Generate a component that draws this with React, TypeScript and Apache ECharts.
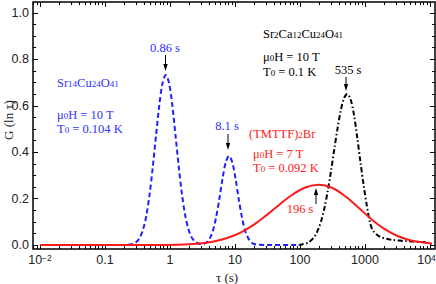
import React, { useEffect, useRef } from 'react';
import * as echarts from 'echarts';

// x values are log10(tau / s)
const blueData: number[][] = [
  [-2, 0], [-1.0, 0], [-0.765, 0.0001], [-0.715, 0.0002], [-0.665, 0.0007], [-0.615, 0.002],
  [-0.565, 0.0056], [-0.515, 0.014], [-0.465, 0.032], [-0.415, 0.067], [-0.365, 0.126],
  [-0.315, 0.216], [-0.265, 0.336], [-0.215, 0.472], [-0.165, 0.603], [-0.115, 0.698],
  [-0.065, 0.733], [-0.015, 0.698], [0.035, 0.603], [0.085, 0.472], [0.135, 0.336],
  [0.185, 0.216], [0.235, 0.126], [0.285, 0.067], [0.335, 0.032], [0.385, 0.0145],
  [0.435, 0.0066], [0.485, 0.004], [0.52, 0.0055], [0.558, 0.01], [0.608, 0.027],
  [0.658, 0.06], [0.708, 0.118], [0.758, 0.197], [0.808, 0.286], [0.858, 0.357],
  [0.908, 0.384], [0.958, 0.357], [1.008, 0.286], [1.058, 0.197], [1.108, 0.118],
  [1.158, 0.06], [1.208, 0.027], [1.258, 0.01], [1.308, 0.0034], [1.358, 0.001],
  [1.5, 0], [2.0, 0],
];

const blackData: number[][] = [
  [1.98, 0], [2.028, 0.0025], [2.128, 0.011], [2.228, 0.038], [2.278, 0.066], [2.328, 0.106],
  [2.378, 0.162], [2.428, 0.235], [2.478, 0.32], [2.528, 0.414], [2.578, 0.504],
  [2.628, 0.581], [2.678, 0.633], [2.728, 0.651], [2.778, 0.628], [2.828, 0.565],
  [2.878, 0.468], [2.928, 0.362], [2.978, 0.26], [3.028, 0.17], [3.078, 0.095],
  [3.128, 0.06], [3.228, 0.036], [3.328, 0.027], [3.428, 0.022], [3.628, 0.017],
  [3.828, 0.014], [3.98, 0.012],
];

const redData: number[][] = [
  [-2, 0], [-0.5, 0], [-0.308, 0.0002], [-0.108, 0.0005], [0.092, 0.0014], [0.292, 0.0034],
  [0.492, 0.0078], [0.692, 0.0163], [0.892, 0.0313], [1.092, 0.0548], [1.292, 0.088],
  [1.492, 0.13], [1.692, 0.176], [1.892, 0.219], [2.092, 0.249], [2.292, 0.26],
  [2.492, 0.247], [2.692, 0.211], [2.892, 0.163], [3.092, 0.113], [3.292, 0.0708],
  [3.492, 0.04], [3.692, 0.021], [3.892, 0.011], [4.03, 0.007],
];

const xMajorTicks = [-2, -1, 0, 1, 2, 3, 4];
const xTickLabels = ['10^-2', '0.1', '1', '10', '100', '1000', '10^4'];
const yMajorTicks = [0, 0.2, 0.4, 0.6, 0.8, 1.0];
const yMinorTicks = [0.05, 0.1, 0.15, 0.25, 0.3, 0.35, 0.45, 0.5, 0.55, 0.65, 0.7, 0.75, 0.85, 0.9, 0.95];

const X_MIN = -2.108;
const X_MAX = 4.077;
const Y_MIN = -0.017;
const Y_MAX = 1.047;

const xMinorTicks: number[] = [];
for (let k = -3; k <= 4; k++) {
  for (let m = 2; m <= 9; m++) {
    const v = k + Math.log10(m);
    if (v > X_MIN && v < X_MAX) xMinorTicks.push(v);
  }
}

const SERIF = '"Liberation Serif", "Times New Roman", serif';
const SANS = '"Liberation Sans", Arial, sans-serif';
const BLUE = '#2020ff';
const BLUE_T = '#3030ff';
const RED = '#ff1a1a';

const xFormatter = (v: number) => {
  const i = xMajorTicks.findIndex((t) => Math.abs(t - v) < 1e-6);
  if (i < 0) return '';
  const s = xTickLabels[i];
  if (s.indexOf('^') >= 0) {
    const [b, e] = s.split('^');
    const supStyle = i === xTickLabels.length - 1 ? 'supR' : 'sup';
    return `{b|${b}}{${supStyle}|${e.replace('-', '\u2212')}}`;
  }
  return `{b|${s}}`;
};
const yFormatter = (v: number) => Number(v).toFixed(1);

function richText(x: number, y: number, text: string, fill: string, align = 'left') {
  return {
    type: 'text',
    x,
    y,
    z: 100,
    style: {
      text,
      fill,
      textAlign: align,
      textVerticalAlign: 'middle',
      fontFamily: SERIF,
      fontSize: 12.5,
      rich: {
        t: { fontFamily: SERIF, fontSize: 12.5, lineHeight: 11, fill },
        s: { fontFamily: SERIF, fontSize: 9, lineHeight: 6, verticalAlign: 'bottom', fill },
      },
    },
  };
}

function arrow(x: number, yFrom: number, yTip: number) {
  const dir = yTip > yFrom ? 1 : -1;
  return [
    { type: 'line', z: 100, shape: { x1: x, y1: yFrom, x2: x, y2: yTip - dir * 5 }, style: { stroke: '#000', lineWidth: 1 } },
    {
      type: 'polygon', z: 100,
      shape: { points: [[x - 2.2, yTip - dir * 7], [x + 2.2, yTip - dir * 7], [x, yTip]] },
      style: { fill: '#000' },
    },
  ];
}

function baseX(position: string, ticks: number[], len: number, labels: boolean) {
  return {
    type: 'value', min: X_MIN, max: X_MAX, position,
    axisLine: { show: false, onZero: false },
    splitLine: { show: false },
    axisTick: { show: true, inside: true, length: len, customValues: ticks, lineStyle: { color: '#000', width: 1 } },
    axisLabel: labels
      ? {
          show: true, customValues: ticks, formatter: xFormatter, margin: 4, color: '#222',
          rich: {
            b: { fontFamily: SANS, fontSize: 12.5, lineHeight: 14, color: '#222' },
            sup: { fontFamily: SANS, fontSize: 8.5, lineHeight: 7, verticalAlign: 'top', color: '#222' },
            supR: { fontFamily: SANS, fontSize: 8.5, lineHeight: 7, verticalAlign: 'top', color: '#222', padding: [0, 7, 0, 0] },
          },
        }
      : { show: false },
  };
}

function baseY(position: string, ticks: number[], len: number, labels: boolean) {
  return {
    type: 'value', min: Y_MIN, max: Y_MAX, position,
    axisLine: { show: false, onZero: false },
    splitLine: { show: false },
    axisTick: { show: true, inside: true, length: len, customValues: ticks, lineStyle: { color: '#000', width: 1 } },
    axisLabel: labels
      ? { show: true, customValues: ticks, formatter: yFormatter, margin: 4, color: '#222', fontFamily: SANS, fontSize: 12.5 }
      : { show: false },
  };
}

export default function App() {
  const ref = useRef<HTMLDivElement>(null);
  useEffect(() => {
    if (!ref.current) return;
    const chart = echarts.init(ref.current, undefined, { renderer: 'svg' });
    const option: any = {
      animation: false,
      backgroundColor: '#fff',
      grid: {
        left: 33, right: 1, top: 2, bottom: 35, show: true,
        borderColor: '#000', borderWidth: 1.5, backgroundColor: 'transparent',
        containLabel: false, outerBoundsMode: 'none',
      },
      xAxis: [
        baseX('bottom', xMajorTicks, 5, true),
        baseX('bottom', xMinorTicks, 3, false),
        baseX('top', xMajorTicks, 5, false),
        baseX('top', xMinorTicks, 3, false),
      ],
      yAxis: [
        baseY('left', yMajorTicks, 5, true),
        baseY('left', yMinorTicks, 3, false),
        baseY('right', yMajorTicks, 5, false),
        baseY('right', yMinorTicks, 3, false),
      ],
      series: [
        {
          type: 'line', name: 'Sr2Ca12Cu24O41', data: blackData, showSymbol: false, symbol: 'none',
          smooth: 0.3, lineStyle: { color: '#000', width: 2, type: [5, 2.5, 1.5, 2.5] }, silent: true,
        },
        {
          type: 'line', name: 'Sr14Cu24O41', data: blueData, showSymbol: false, symbol: 'none',
          smooth: 0.3, lineStyle: { color: BLUE, width: 2, type: [5, 3] }, silent: true,
        },
        {
          type: 'line', name: '(TMTTF)2Br', data: redData, showSymbol: false, symbol: 'none',
          smooth: 0.4, lineStyle: { color: RED, width: 2, type: 'solid' }, silent: true,
        },
      ],
      graphic: [
        richText(57, 83, '{t|Sr}{s|14}{t|Cu}{s|24}{t|O}{s|41}', BLUE_T),
        richText(57, 115, '{t|\u03bc}{s|0}{t|H = 10 T}', BLUE_T),
        richText(57, 128.5, '{t|T}{s|0}{t| = 0.104 K}', BLUE_T),
        richText(165, 48, '{t|0.86 s}', BLUE_T, 'center'),
        richText(227, 126, '{t|8.1 s}', BLUE_T, 'center'),
        richText(263, 34, '{t|Sr}{s|2}{t|Ca}{s|12}{t|Cu}{s|24}{t|O}{s|41}', '#000'),
        richText(263, 57, '{t|\u03bc}{s|0}{t|H = 10 T}', '#000'),
        richText(263, 72, '{t|T}{s|0}{t| = 0.1 K}', '#000'),
        richText(348, 70, '{t|535 s}', '#000', 'center'),
        richText(249, 134, '{t|(TMTTF)}{s|2}{t|Br}', RED),
        richText(253, 154, '{t|\u03bc}{s|0}{t|H = 7 T}', RED),
        richText(253, 167.5, '{t|T}{s|0}{t| = 0.092 K}', RED),
        richText(300, 209, '{t|196 s}', RED, 'center'),
        ...arrow(165.5, 55, 71),
        ...arrow(228, 134, 150),
        ...arrow(346, 77, 91),
        ...arrow(316, 204, 188),
        {
          type: 'text', x: 227, y: 277, z: 100,
          style: { text: '\u03c4 (s)', fill: '#222', fontFamily: SERIF, fontSize: 13, textAlign: 'center', textVerticalAlign: 'middle' },
        },
        {
          type: 'text', x: 8, y: 120, z: 100, rotation: Math.PI / 2,
          style: { text: 'G (ln \u03c4)', fill: '#222', fontFamily: SERIF, fontSize: 13, textAlign: 'center', textVerticalAlign: 'middle' },
        },
      ],
    };
    chart.setOption(option);
    return () => chart.dispose();
  }, []);
  return <div ref={ref} style={{ position: 'fixed', left: 0, top: 0, width: 436, height: 284 }} />;
}
